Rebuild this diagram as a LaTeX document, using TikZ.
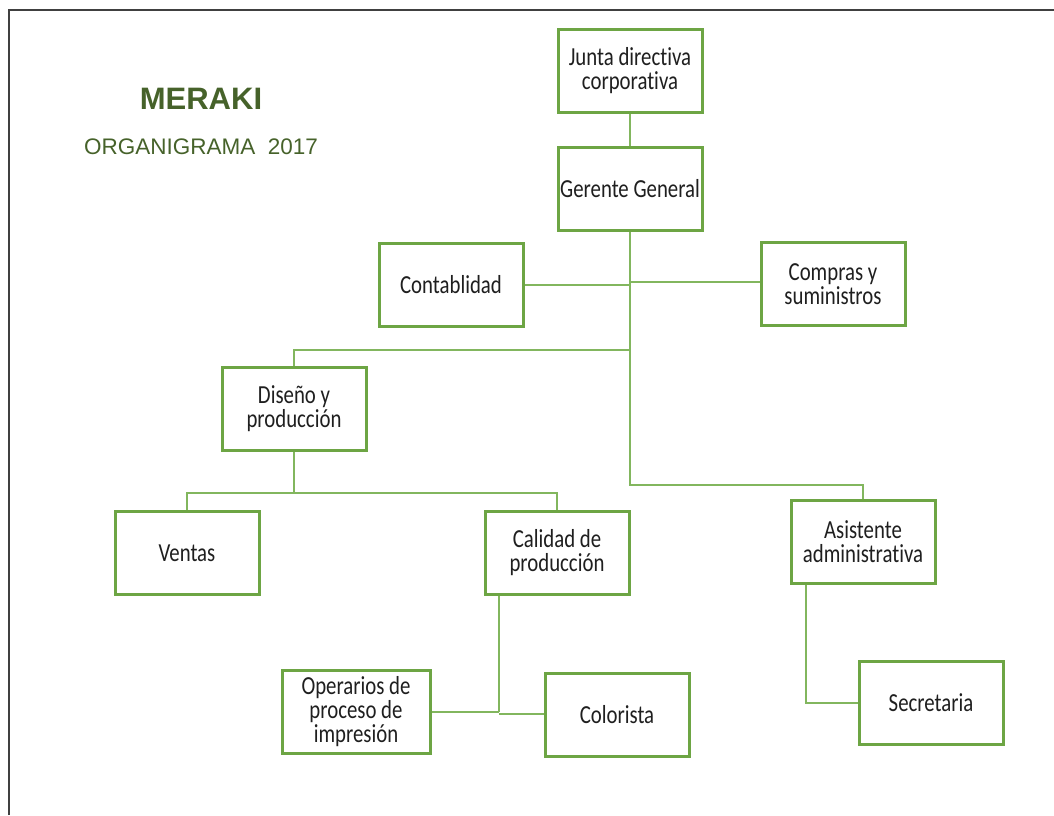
\documentclass[tikz,border=0pt]{standalone}
\usepackage{fontspec}
\setmainfont{Carlito}[FakeStretch=0.8,Ligatures={NoCommon,NoContextual}]
\newfontfamily\arialf{Liberation Sans}
\definecolor{boxgreen}{HTML}{6DA544}
\definecolor{linegreen}{HTML}{82B65E}
\definecolor{titlegreen}{HTML}{46622A}
\definecolor{framegray}{HTML}{404040}
\begin{document}
\begin{tikzpicture}[x=1pt,y=-1pt,
  orgbox/.style={draw=boxgreen,line width=3pt,fill=white,minimum width=144pt,minimum height=83pt,inner sep=1pt,align=center,font=\fontsize{26}{24}\selectfont,text=black!88},
  conn/.style={draw=linegreen,line width=2pt}]
\useasboundingbox (0,0) rectangle (1054,815);
\draw[framegray,line width=2pt] (9,815) -- (9,10) -- (1054,10);
\node[font=\arialf\bfseries\fontsize{31}{31}\selectfont,text=titlegreen] (title) at (201,99) {MERAKI};
\node[font=\arialf\fontsize{22.5}{22.5}\selectfont,text=titlegreen] (subtitle) at (201,147) {ORGANIGRAMA\ \ 2017};
% boxes
\node[orgbox] (junta) at (630,71) {Junta directiva\\corporativa};
\node[orgbox] (gerente) at (630,189) {Gerente General};
\node[orgbox] (conta) at (451,285) {Contablidad};
\node[orgbox] (compras) at (833,284) {Compras y\\suministros};
\node[orgbox] (diseno) at (294,409) {Diseño y\\producción};
\node[orgbox] (ventas) at (187,553) {Ventas};
\node[orgbox] (calidad) at (557,553) {Calidad de\\producción};
\node[orgbox] (asist) at (863,542) {Asistente\\administrativa};
\node[orgbox,minimum width=148pt] (oper) at (356,712) {Operarios de\\proceso de\\impresión};
\node[orgbox] (color) at (617,715) {Colorista};
\node[orgbox] (secre) at (931,703) {Secretaria};
% junction coordinates
\coordinate (t1) at (630,285);
\coordinate (t2) at (630,282);
\coordinate (t3) at (630,350);
\coordinate (t4) at (630,485);
\coordinate (d1) at (294,493);
\coordinate (c1) at (499,712);
\coordinate (c2) at (499,714);
\coordinate (s1) at (806,0);
% connectors
\draw[conn] (junta.south) -- (gerente.north);
\draw[conn] (gerente.south) -- (t4) -| (asist.north);
\draw[conn] (conta.east) -- (t1);
\draw[conn] (compras.west |- t2) -- (t2);
\draw[conn] (t3) -| (diseno.north);
\draw[conn] (diseno.south) -- (d1);
\draw[conn] (ventas.north) |- (d1) -| (calidad.north);
\draw[conn] (calidad.south -| c1) -- (c1);
\draw[conn] (oper.east |- c1) -- (c1);
\draw[conn] (c2) -- (color.west |- c2);
\draw[conn] (asist.south -| s1) |- (secre.west);
\end{tikzpicture}
\end{document}
